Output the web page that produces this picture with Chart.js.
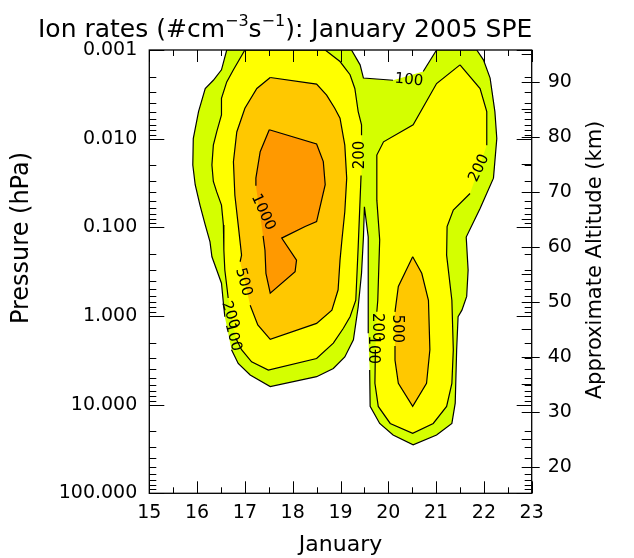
<!DOCTYPE html>
<html>
<head>
<meta charset="utf-8">
<title>Ion rates: January 2005 SPE</title>
<script src="https://cdn.jsdelivr.net/npm/chart.js@4.4.1/dist/chart.umd.min.js"></script>
<style>
  html, body { margin: 0; padding: 0; background: #fff; }
  canvas { display: block; }
</style>
</head>
<body>
<canvas id="chart" width="634" height="558"></canvas>
<script>
'use strict';

// axes
const dayRange = [15, 23];
const pressureTicks = [0.001, 0.01, 0.1, 1, 10, 100];
const pressureLabels = ['0.001', '0.010', '0.100', '1.000', '10.000', '100.000'];
const altitudeRange = [15.2, 95.8];
const altitudeTicks = [20, 30, 40, 50, 60, 70, 80, 90];

// contour levels (#cm-3 s-1) and their fill colours
const levels = [100, 200, 500, 1000];
const levelColors = ['#d4ff00', '#ffff00', '#ffc800', '#ff9900'];

// contour outlines: [day of January, altitude km]
const contour100 = [
    [16.62, 95.8], [16.51, 92.2], [16.34, 90.3], [16.17, 88.8], [16.03, 84.6], [15.92, 79.7],
    [15.91, 74.9], [15.96, 71.3], [16.06, 67.6], [16.17, 64.0], [16.27, 60.9], [16.31, 58.2],
    [16.41, 55.8], [16.51, 53.4], [16.55, 49.8], [16.58, 47.3], [16.72, 41.3], [16.86, 38.8],
    [17.11, 36.7], [17.53, 34.6], [18.50, 36.4], [18.85, 37.9], [19.09, 40.0], [19.27, 43.1],
    [19.37, 49.1], [19.44, 55.2], [19.48, 61.8], [19.50, 67.3], [19.58, 61.8], [19.58, 55.2],
    [19.58, 44.3], [19.61, 37.6], [19.62, 31.0], [19.82, 27.9], [20.10, 25.8], [20.52, 24.0],
    [21.01, 25.8], [21.33, 27.9], [21.40, 31.6], [21.43, 41.3], [21.46, 47.3], [21.54, 48.5],
    [21.64, 51.0], [21.67, 55.8], [21.63, 61.8], [21.92, 67.0], [22.20, 72.5], [22.27, 79.7],
    [22.23, 84.6], [22.13, 90.7], [21.99, 94.0], [21.85, 95.8], [21.01, 95.8], [20.73, 91.9],
    [20.10, 90.3], [19.48, 90.7], [19.41, 93.1], [19.23, 95.8]
];
const contour100Gaps = [15, 30, 53];

const contour200Left = [
    [17.00, 95.8], [16.76, 92.2], [16.62, 90.0], [16.51, 87.0], [16.51, 84.0], [16.41, 80.9],
    [16.34, 78.5], [16.31, 74.9], [16.34, 71.9], [16.41, 70.0], [16.51, 67.6], [16.55, 64.0],
    [16.56, 59.4], [16.58, 55.8], [16.63, 52.2], [16.65, 50.7], [16.81, 43.4], [16.93, 41.3],
    [17.14, 39.1], [17.49, 37.6], [18.50, 39.7], [18.85, 42.5], [19.06, 45.2], [19.20, 47.3],
    [19.32, 50.3], [19.37, 60.0], [19.43, 73.0], [19.44, 80.3], [19.44, 82.2], [19.37, 84.6],
    [19.30, 88.8], [19.20, 91.3], [18.99, 93.7], [18.68, 95.8]
];
const contour200LeftGaps = [15, 26];

const contour200Right = [
    [21.50, 93.1], [21.92, 88.8], [22.06, 84.6], [22.06, 78.5], [21.71, 69.7], [21.36, 66.7],
    [21.23, 63.7], [21.22, 58.5], [21.33, 50.3], [21.36, 41.3], [21.33, 35.2], [21.22, 31.0],
    [20.94, 27.9], [20.51, 26.1], [20.04, 27.9], [19.79, 31.0], [19.72, 35.2], [19.73, 41.3],
    [19.76, 48.2], [19.78, 50.3], [19.82, 61.3], [19.76, 68.5], [19.76, 76.7], [19.90, 79.1],
    [20.52, 82.2], [21.01, 89.7]
];
const contour200RightGaps = [3, 17];

const contour500Left = [
    [17.53, 90.8], [18.50, 89.6], [18.71, 87.6], [18.88, 85.2], [18.99, 83.4], [19.09, 78.5],
    [19.13, 72.5], [19.09, 66.4], [19.03, 61.3], [18.99, 57.6], [18.95, 52.2], [18.82, 48.5],
    [18.50, 46.1], [17.53, 43.2], [17.27, 45.8], [17.11, 49.4], [16.90, 57.3], [16.93, 58.5],
    [16.86, 64.0], [16.79, 69.4], [16.76, 75.5], [16.83, 80.9], [17.00, 85.2], [17.25, 88.8]
];
const contour500LeftGaps = [15];

const contour500Right = [
    [20.51, 58.2], [20.70, 55.2], [20.84, 50.3], [20.87, 41.3], [20.80, 35.2], [20.51, 31.0],
    [20.21, 35.2], [20.14, 39.4], [20.14, 42.0], [20.14, 48.2], [20.21, 52.8]
];
const contour500RightGaps = [8];

const contour1000Left = [
    [17.51, 81.3], [18.50, 78.7], [18.64, 75.5], [18.68, 71.3], [18.50, 64.6], [18.26, 63.7],
    [17.77, 61.6], [18.08, 57.6], [18.05, 55.5], [17.53, 51.6], [17.44, 55.2], [17.42, 59.4],
    [17.38, 62.0], [17.23, 71.1], [17.23, 72.5], [17.32, 77.3]
];
const contour1000LeftGaps = [12];

// contour labels
const labelText  = ['100', '200', '200', '1000', '500', '200', '100', '500', '200', '100'];
const labelDay   = [20.43, 19.41, 21.90, 17.38, 16.97, 16.69, 16.75, 20.18, 19.76, 19.67];
const labelAlt   = [90.3, 76.7, 74.3, 66.3, 53.6, 47.6, 43.6, 45.1, 45.4, 41.3];
const labelAngle = [6, -90, -65, 65, 75, 72, 75, 90, 90, 90];


(function(){

    const FONT = '"DejaVu Sans", "Liberation Sans", sans-serif';

    const contours = [
        {points: contour100,       gaps: contour100Gaps,       level: 0},
        {points: contour200Left,   gaps: contour200LeftGaps,   level: 1},
        {points: contour200Right,  gaps: contour200RightGaps,  level: 1},
        {points: contour500Left,   gaps: contour500LeftGaps,   level: 2},
        {points: contour500Right,  gaps: contour500RightGaps,  level: 2},
        {points: contour1000Left,  gaps: contour1000LeftGaps,  level: 3},
    ];

    function toXY(pts) {
        return pts.map(p => ({x: p[0], y: p[1]}));
    }

    function isDecade(v) {
        return pressureTicks.findIndex(p => Math.abs(p - v) < p * 1e-6);
    }

    let datasets = [];

    // filled areas, lowest level drawn first
    for (let c of contours) {
        datasets.push({
            data: toXY(c.points),
            yAxisID: 'y2',
            fill: 'shape',
            backgroundColor: levelColors[c.level],
            borderColor: 'rgba(0,0,0,0)',
            borderWidth: 1,
            pointRadius: 0,
            order: 10 - c.level,
        });
    }

    // contour lines on top, broken where a label sits
    for (let c of contours) {
        let gaps = c.gaps;
        datasets.push({
            data: toXY(c.points.concat([c.points[0]])),
            yAxisID: 'y2',
            fill: false,
            borderColor: '#000',
            borderWidth: 1.2,
            pointRadius: 0,
            order: 0,
            segment: {
                borderColor: ctx => gaps.includes(ctx.p0DataIndex) ? 'rgba(0,0,0,0)' : '#000',
            },
        });
    }

    // tick marks pointing into the plot, plus the frame
    const frameTicks = {
        id: 'frameTicks',
        afterDatasetsDraw(chart) {
            const {ctx, chartArea: a, scales} = chart;
            ctx.save();
            ctx.strokeStyle = '#000';
            ctx.lineWidth = 1;
            ctx.beginPath();
            for (let t of scales.x.ticks) {
                let px = Math.round(scales.x.getPixelForValue(t.value)) + 0.5;
                let len = Number.isInteger(t.value) ? 12 : 6;
                ctx.moveTo(px, a.bottom); ctx.lineTo(px, a.bottom - len);
                ctx.moveTo(px, a.top); ctx.lineTo(px, a.top + len);
            }
            for (let t of scales.y.ticks) {
                let py = Math.round(scales.y.getPixelForValue(t.value)) + 0.5;
                let len = isDecade(t.value) >= 0 ? 15 : 7;
                ctx.moveTo(a.left, py); ctx.lineTo(a.left + len, py);
                ctx.moveTo(a.right, py); ctx.lineTo(a.right - len, py);
            }
            for (let t of scales.y2.ticks) {
                let py = Math.round(scales.y2.getPixelForValue(t.value)) + 0.5;
                let out = altitudeTicks.includes(t.value) ? 8 : 0;
                ctx.moveTo(a.right - 10, py); ctx.lineTo(a.right + out, py);
            }
            ctx.stroke();
            ctx.lineWidth = 1.3;
            ctx.strokeRect(a.left, a.top, a.width, a.height);
            ctx.restore();
        }
    };

    // contour level labels placed through the scales
    const contourLabels = {
        id: 'contourLabels',
        afterDatasetsDraw(chart) {
            const {ctx, scales} = chart;
            ctx.save();
            ctx.fillStyle = '#000';
            ctx.font = '15px ' + FONT;
            ctx.textAlign = 'center';
            ctx.textBaseline = 'middle';
            for (let i = 0; i < labelText.length; i++) {
                let px = scales.x.getPixelForValue(labelDay[i]);
                let py = scales.y2.getPixelForValue(labelAlt[i]);
                ctx.save();
                ctx.translate(px, py);
                ctx.rotate(labelAngle[i] * Math.PI / 180);
                ctx.fillText(labelText[i], 0, 0);
                ctx.restore();
            }
            ctx.restore();
        }
    };

    // title with superscripts and the two vertical axis titles
    const titles = {
        id: 'titles',
        afterDraw(chart) {
            const ctx = chart.ctx;
            ctx.save();
            ctx.fillStyle = '#000';
            ctx.textBaseline = 'alphabetic';
            ctx.textAlign = 'left';
            let parts = [['Ion rates (#cm', 0], ['\u22123', 1], ['s', 0], ['\u22121', 1], ['): January 2005 SPE', 0]];
            let x = 38;
            for (let [txt, sup] of parts) {
                ctx.font = (sup ? '16px ' : '25px ') + FONT;
                ctx.fillText(txt, x, sup ? 26 : 37);
                x += ctx.measureText(txt).width;
            }

            ctx.textAlign = 'center';
            ctx.textBaseline = 'middle';

            ctx.save();
            ctx.translate(22, 238);
            ctx.rotate(-Math.PI / 2);
            ctx.font = '24px ' + FONT;
            ctx.fillText('Pressure (hPa)', 0, 0);
            ctx.restore();

            ctx.save();
            ctx.translate(596, 260);
            ctx.rotate(-Math.PI / 2);
            ctx.font = '21px ' + FONT;
            ctx.fillText('Approximate Altitude (km)', 0, 0);
            ctx.restore();

            ctx.restore();
        }
    };

    const tickFont = {family: FONT, size: 19};

    new Chart(document.getElementById('chart'), {
        type: 'line',
        data: {datasets: datasets},
        options: {
            responsive: false,
            animation: false,
            devicePixelRatio: 1,
            events: [],
            layout: {padding: {top: 50, left: 0, right: 0, bottom: 0}},
            elements: {line: {tension: 0}},
            plugins: {
                legend: {display: false},
                tooltip: {enabled: false},
                title: {display: false},
            },
            scales: {
                x: {
                    type: 'linear',
                    min: dayRange[0],
                    max: dayRange[1],
                    grid: {display: false, drawTicks: false},
                    border: {display: false},
                    ticks: {
                        stepSize: 0.5,
                        autoSkip: false,
                        maxRotation: 0,
                        padding: 8,
                        color: '#000',
                        font: tickFont,
                        callback: v => Number.isInteger(v) ? String(v) : '',
                    },
                    title: {
                        display: true,
                        text: 'January',
                        color: '#000',
                        font: {family: FONT, size: 22},
                        padding: {top: 0, bottom: 0},
                    },
                    afterFit: s => { s.height = 64.7; },
                },
                y: {
                    type: 'logarithmic',
                    position: 'left',
                    reverse: true,
                    min: pressureTicks[0],
                    max: pressureTicks[pressureTicks.length - 1],
                    grid: {display: false, drawTicks: false},
                    border: {display: false},
                    afterBuildTicks: s => {
                        let list = [];
                        pressureTicks.forEach((p, i) => {
                            if (i < pressureTicks.length - 1) {
                                for (let m = 1; m < 10; m++) list.push({value: p * m});
                            } else {
                                list.push({value: p});
                            }
                        });
                        s.ticks = list;
                    },
                    ticks: {
                        autoSkip: false,
                        padding: 12,
                        color: '#000',
                        font: tickFont,
                        callback: v => {
                            let i = isDecade(v);
                            return i >= 0 ? pressureLabels[i] : '';
                        },
                    },
                    afterFit: s => { s.width = 149.3; },
                },
                y2: {
                    type: 'linear',
                    position: 'right',
                    min: altitudeRange[0],
                    max: altitudeRange[1],
                    grid: {display: false, drawTicks: false},
                    border: {display: false},
                    afterBuildTicks: s => {
                        let list = [];
                        for (let a of altitudeTicks) {
                            list.push({value: a});
                            if (a + 5 <= altitudeRange[1]) list.push({value: a + 5});
                        }
                        s.ticks = list;
                    },
                    ticks: {
                        autoSkip: false,
                        padding: 16,
                        color: '#000',
                        font: tickFont,
                        callback: v => altitudeTicks.includes(v) ? String(v) : '',
                    },
                    afterFit: s => { s.width = 102.3; },
                },
            },
        },
        plugins: [frameTicks, contourLabels, titles],
    });
})();
</script>
</body>
</html>
